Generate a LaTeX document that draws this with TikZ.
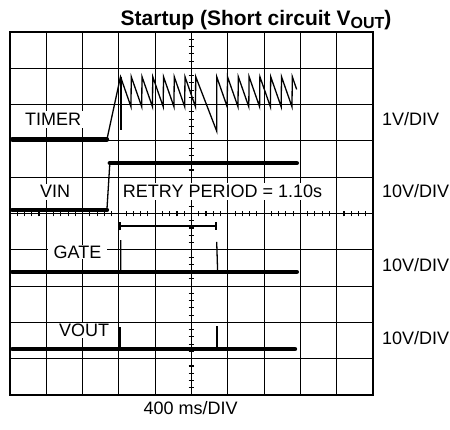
\documentclass[tikz,border=0pt]{standalone}
\usepackage{fontspec}
\setmainfont{Liberation Sans}
\usetikzlibrary{arrows.meta}

\begin{document}
\begin{tikzpicture}[x=36.3bp,y=36.3bp,
    grid/.style={line width=1.1bp},
    trace/.style={line width=4.5bp,line cap=round},
    wave/.style={line width=1.3bp},
    lbl/.style={font=\fontsize{18bp}{20bp}\selectfont,inner sep=0pt,anchor=base},
    tag/.style={lbl,fill=white,inner xsep=3bp,inner ysep=2bp}]
\useasboundingbox (-0.2755,-0.937) rectangle (12.121,10.882);
% screen grid
\foreach \x in {1,...,9}
   \draw[grid] (\x,0) -- (\x,10);
\foreach \y in {1,...,9}
   \draw[grid] (0,\y) -- (10,\y);
\draw[grid,line width=1.4bp] (0,0) rectangle (10,10);
\foreach \t in {1,...,49}
   \draw[grid] (0.2*\t,4.92) -- (0.2*\t,5.08) (4.92,0.2*\t) -- (5.08,0.2*\t);
% channel labels
\node[tag] (timer) at (1.185,7.42) {TIMER};
\node[tag] (vin) at (1.24,5.43) {VIN};
\node[tag,inner xsep=6bp,inner ysep=1bp] (gate) at (1.86,3.77) {GATE};
\node[tag,inner xsep=8bp,inner ysep=1bp] (vout) at (2.04,1.61) {VOUT};
\node[tag] (retry) at (5.854,5.43) {RETRY PERIOD = 1.10s};
% TIMER
\draw[trace] (0.062,7.04) -- (2.67,7.04);
\draw[wave] (2.67,7.04) -- (3.044,8.77)
   \foreach \k in {1,...,7}{ -- ++(0.289,-0.83) -- ++(0.007,0.83) }
   -- (5.694,7.27) -- (5.694,8.77)
   \foreach \k in {1,...,7}{ -- ++(0.289,-0.83) -- ++(0.0085,0.83) }
   -- ++(0.12,-0.35);
\draw[wave] (3.06,8.77) -- (3.06,7.30);
% VIN
\draw[trace] (0.062,5.1) -- (2.67,5.1);
\draw[wave] (2.67,5.1) -- (2.75,6.39);
\draw[trace] (2.75,6.39) -- (7.9,6.39);
\draw[wave,{Bar[width=8.5bp]}-{Bar[width=8.5bp]}] (3.01,4.656) -- (5.694,4.656);
% GATE
\draw[trace] (0.062,3.39) -- (7.9,3.39);
\draw[wave] (3.05,3.39) -- (3.05,4.27) (5.72,3.39) -- (5.694,4.22);
% VOUT
\draw[trace] (0.062,1.267) -- (7.85,1.267);
\draw[wave] (3.03,1.267) -- (3.03,1.87) (5.70,1.267) -- (5.70,1.90);
% scales
\node[lbl,anchor=base west] (scaleA) at (10.248,7.42) {1V/DIV};
\node[lbl,anchor=base west] (scaleB) at (10.248,5.44) {10V/DIV};
\node[lbl,anchor=base west] (scaleC) at (10.248,3.40) {10V/DIV};
\node[lbl,anchor=base west] (scaleD) at (10.248,1.405) {10V/DIV};
\node[lbl] (tbase) at (4.978,-0.523) {400 ms/DIV};
\node[font=\bfseries\fontsize{21bp}{24bp}\selectfont,inner sep=0pt,anchor=base] (title) at (6.777,10.19)
   {Startup (Short circuit V\raisebox{-3bp}{\fontsize{16bp}{18bp}\selectfont OUT})};
\end{tikzpicture}
\end{document}
